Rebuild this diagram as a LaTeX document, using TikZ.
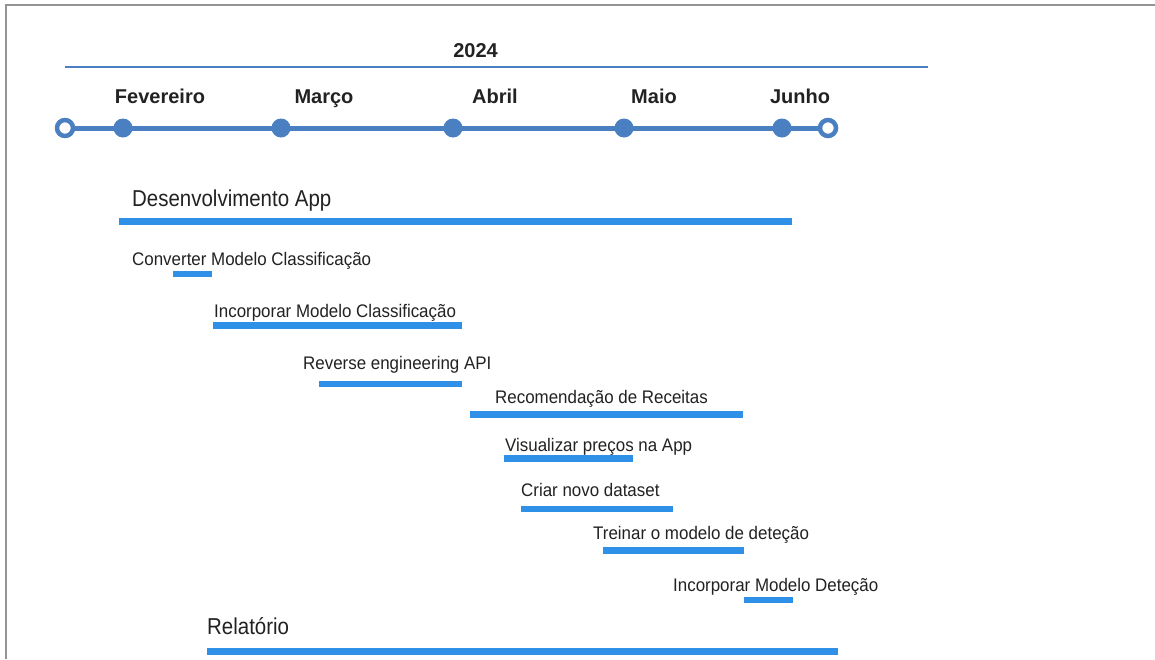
\documentclass[tikz,border=0pt]{standalone}
\usepackage{fontspec}
\setmainfont{Liberation Sans}
\newfontfamily\taskfont[FakeStretch=0.93]{Liberation Sans}
\newfontfamily\bigfont[FakeStretch=0.89]{Liberation Sans}
\begin{document}
\begin{tikzpicture}[x=1pt,y=-1pt,
  frame/.style={draw=black!42,line width=2pt},
  axis/.style={draw=tl,line width=2pt},
  tline/.style={draw=tl,line width=5pt},
  opendot/.style={circle,draw=tl,line width=4.5pt,fill=white,minimum size=16pt,inner sep=0pt},
  fulldot/.style={circle,fill=tl,minimum size=19pt,inner sep=0pt},
  month/.style={anchor=base,inner sep=0pt,text=txt,font=\fontsize{20}{24}\selectfont\bfseries},
  big/.style={anchor=base west,inner sep=0pt,text=txt,font=\bigfont\fontsize{23}{27}\selectfont},
  task/.style={anchor=base west,inner sep=0pt,text=txt,font=\taskfont\fontsize{18.2}{21}\selectfont},
  bar/.style={draw=bar,line width=6.5pt},
  bigbar/.style={draw=bar,line width=7pt}]
\definecolor{tl}{HTML}{4A80C2}
\definecolor{bar}{HTML}{2F90E8}
\definecolor{txt}{HTML}{222222}
\useasboundingbox[fill=white] (0,0) rectangle (1155,659);
% frame
\coordinate (fa) at (6,659); \coordinate (fb) at (6,5); \coordinate (fc) at (1155,5);
\draw[frame] (fa) -- (fb) -- (fc);
% year
\node[month] (year) at (475.5,57) {2024};
\coordinate (ya) at (65,67); \coordinate (yb) at (928,67);
\draw[axis] (ya) -- (yb);
% months
\node[month] (mfev) at (160,103) {Fevereiro};
\node[month] (mmar) at (324,103) {Março};
\node[month] (mabr) at (495,103) {Abril};
\node[month] (mmai) at (654,103) {Maio};
\node[month] (mjun) at (800,103) {Junho};
% timeline
\coordinate (ts) at (65,128); \coordinate (te) at (828,128);
\draw[tline] (ts) -- (te);
\node[opendot] (d0) at (ts) {};
\node[opendot] (d6) at (te) {};
\node[fulldot] (d1) at (123,128) {};
\node[fulldot] (d2) at (281,128) {};
\node[fulldot] (d3) at (453,128) {};
\node[fulldot] (d4) at (624,128) {};
\node[fulldot] (d5) at (782,128) {};
% tasks
\node[big] (t1) at (132,206) {Desenvolvimento App};
\coordinate (b1a) at (119,221); \coordinate (b1b) at (792,221);
\draw[bigbar] (b1a) -- (b1b);

\node[task] (t2) at (132,265) {Converter Modelo Classificação};
\coordinate (b2a) at (173,274); \coordinate (b2b) at (212,274);
\draw[bar] (b2a) -- (b2b);

\node[task] (t3) at (214,317) {Incorporar Modelo Classificação};
\coordinate (b3a) at (213,325.5); \coordinate (b3b) at (462,325.5);
\draw[bar] (b3a) -- (b3b);

\node[task] (t4) at (303,369) {Reverse engineering API};
\coordinate (b4a) at (319,384); \coordinate (b4b) at (462,384);
\draw[bar] (b4a) -- (b4b);

\node[task] (t5) at (495,403) {Recomendação de Receitas};
\coordinate (b5a) at (470,414.5); \coordinate (b5b) at (743,414.5);
\draw[bar] (b5a) -- (b5b);

\node[task] (t6) at (505,451) {Visualizar preços na App};
\coordinate (b6a) at (504,458.5); \coordinate (b6b) at (633,458.5);
\draw[bar] (b6a) -- (b6b);

\node[task] (t7) at (521,496) {Criar novo dataset};
\coordinate (b7a) at (521,509); \coordinate (b7b) at (673,509);
\draw[bar] (b7a) -- (b7b);

\node[task] (t8) at (593,539) {Treinar o modelo de deteção};
\coordinate (b8a) at (603,550.5); \coordinate (b8b) at (744,550.5);
\draw[bar] (b8a) -- (b8b);

\node[task] (t9) at (673,591) {Incorporar Modelo Deteção};
\coordinate (b9a) at (744,600); \coordinate (b9b) at (793,600);
\draw[bar] (b9a) -- (b9b);

\node[big] (t10) at (207,634) {Relatório};
\coordinate (b10a) at (207,651); \coordinate (b10b) at (838,651);
\draw[bigbar] (b10a) -- (b10b);
\end{tikzpicture}
\end{document}
